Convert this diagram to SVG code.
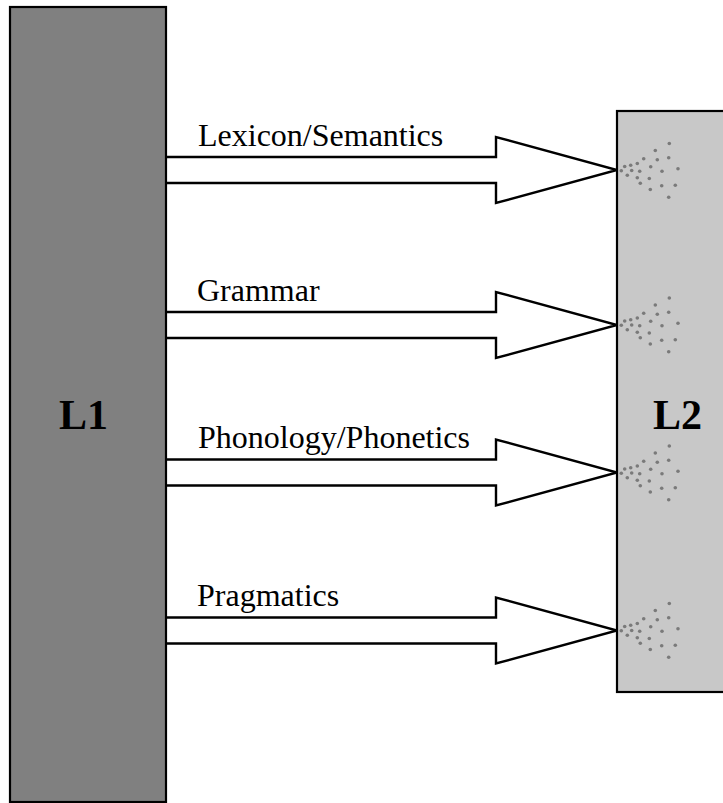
<svg xmlns="http://www.w3.org/2000/svg" xmlns:xlink="http://www.w3.org/1999/xlink" width="723" height="803" viewBox="0 0 723 803">
<style>
.box{stroke:#000;stroke-width:2.2}
.arrow{fill:#fff;stroke:#000;stroke-width:2.4;stroke-linejoin:miter}
.lbl{font-family:"Liberation Serif","Times New Roman",serif;font-size:32px;fill:#000}
.big{font-family:"Liberation Serif","Times New Roman",serif;font-size:42px;font-weight:bold;fill:#000}
.dot{fill:#7a7a7a}
</style>
<defs>
<g id="spray">
<circle class="dot" cx="52.3" cy="-27" r="1.8"/>
<circle class="dot" cx="38.3" cy="-20" r="1.8"/>
<circle class="dot" cx="51.7" cy="-12.7" r="1.8"/>
<circle class="dot" cx="26.7" cy="-11.7" r="1.8"/>
<circle class="dot" cx="40.3" cy="-10.7" r="1.8"/>
<circle class="dot" cx="20.3" cy="-7" r="1.8"/>
<circle class="dot" cx="13.7" cy="-5.3" r="1.8"/>
<circle class="dot" cx="7.7" cy="-4" r="1.8"/>
<circle class="dot" cx="33.7" cy="-3.7" r="1.8"/>
<circle class="dot" cx="61" cy="-1.7" r="1.8"/>
<circle class="dot" cx="14.7" cy="0" r="1.8"/>
<circle class="dot" cx="22.7" cy="0.7" r="1.8"/>
<circle class="dot" cx="45" cy="0.7" r="1.8"/>
<circle class="dot" cx="4.3" cy="0.3" r="1.8"/>
<circle class="dot" cx="10.3" cy="4.7" r="1.8"/>
<circle class="dot" cx="20.3" cy="7.3" r="1.8"/>
<circle class="dot" cx="32.3" cy="8" r="1.8"/>
<circle class="dot" cx="23.3" cy="12.7" r="1.8"/>
<circle class="dot" cx="44.7" cy="15.3" r="1.8"/>
<circle class="dot" cx="58.3" cy="14.7" r="1.8"/>
<circle class="dot" cx="33.3" cy="19" r="1.8"/>
<circle class="dot" cx="51.7" cy="26.7" r="1.8"/>
</g>
</defs>
<rect width="723" height="803" fill="#fff"/>
<g id="connectors">
<g id="arrow-lexicon">
<path class="arrow" d="M160,157 H496 V137 L617,170 L496,203 V183 H160"/>
<text class="lbl" x="198" y="146">Lexicon/Semantics</text>
</g>
<g id="arrow-grammar">
<path class="arrow" d="M160,312 H496 V292 L617,325 L496,358 V338 H160"/>
<text class="lbl" x="197" y="301">Grammar</text>
</g>
<g id="arrow-phonology">
<path class="arrow" d="M160,459.5 H496 V439.5 L617,472.5 L496,505.5 V485.5 H160"/>
<text class="lbl" x="198" y="448">Phonology/Phonetics</text>
</g>
<g id="arrow-pragmatics">
<path class="arrow" d="M160,617.5 H496 V597.5 L617,630.5 L496,663.5 V643.5 H160"/>
<text class="lbl" x="197" y="606">Pragmatics</text>
</g>
</g>
<g id="L1">
<rect class="box" x="10" y="7" width="156" height="795" fill="#808080"/>
<text class="big" x="59" y="429">L1</text>
</g>
<g id="L2">
<rect class="box" x="617" y="111" width="110" height="581" fill="#c8c8c8"/>
<text class="big" x="653" y="429">L2</text>
</g>
<g id="sprays">
<use xlink:href="#spray" href="#spray" transform="translate(617,170.5)"/>
<use xlink:href="#spray" href="#spray" transform="translate(617,325)"/>
<use xlink:href="#spray" href="#spray" transform="translate(617,473)"/>
<use xlink:href="#spray" href="#spray" transform="translate(617,630.5)"/>
</g>
</svg>
